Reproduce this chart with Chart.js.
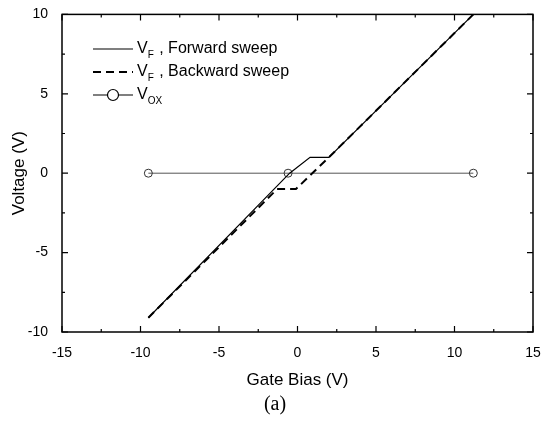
<!DOCTYPE html>
<html>
<head>
<meta charset="utf-8">
<script src="https://cdn.jsdelivr.net/npm/chart.js@4/dist/chart.umd.min.js"></script>
<style>
  html, body { margin: 0; padding: 0; background: #fff; }
  #wrap { width: 550px; height: 428px; }
</style>
</head>
<body>
<div id="wrap"><canvas id="chart"></canvas></div>
<script>
// gate bias (V) and voltage (V)
const forwardBias = [-9.5, -0.5, 0.8, 2.0, 11.2];
const forwardVolt = [-9.1, 0.0, 1.0, 1.0, 10.0];
const backwardBias = [-9.5, -1.3, -0.1, 2.0, 11.2];
const backwardVolt = [-9.1, -1.0, -1.0, 1.0, 10.0];
const oxideBias = [-9.5, -0.6, 11.2];
const oxideVolt = [0, 0, 0];
const xTicks = [-15, -10, -5, 0, 5, 10, 15];
const yTicks = [-10, -5, 0, 5, 10];

const pts = (xs, ys) => xs.map((x, i) => ({ x, y: ys[i] }));
const FONT = "'Liberation Sans', Arial, sans-serif";

// inward ticks + box frame, legend and figure label
const framePlugin = {
  id: "frame",
  afterDatasetsDraw(chart) {
    const { ctx, chartArea: a, scales } = chart;
    ctx.save();
    ctx.strokeStyle = "#000";
    ctx.lineWidth = 1.5;
    ctx.strokeRect(a.left, a.top, a.right - a.left, a.bottom - a.top);
    ctx.lineWidth = 1.2;
    ctx.beginPath();
    for (let v = -15; v <= 15; v += 2.5) {
      const px = scales.x.getPixelForValue(v);
      const len = v % 5 === 0 ? 6 : 3;
      ctx.moveTo(px, a.bottom); ctx.lineTo(px, a.bottom - len);
      ctx.moveTo(px, a.top); ctx.lineTo(px, a.top + len);
    }
    for (let v = -10; v <= 10; v += 2.5) {
      const py = scales.y.getPixelForValue(v);
      const len = v % 5 === 0 ? 6 : 3;
      ctx.moveTo(a.left, py); ctx.lineTo(a.left + len, py);
      ctx.moveTo(a.right, py); ctx.lineTo(a.right - len, py);
    }
    ctx.stroke();
    ctx.restore();
  },
  afterDraw(chart) {
    const { ctx } = chart;
    ctx.save();
    ctx.fillStyle = "#000";
    ctx.strokeStyle = "#000";
    const x0 = 93, x1 = 133, tx = 137;
    const rows = [
      { y: 49, sub: "F", text: " , Forward sweep", kind: "solid" },
      { y: 72, sub: "F", text: " , Backward sweep", kind: "dash" },
      { y: 95, sub: "OX", text: "", kind: "circle" }
    ];
    rows.forEach(r => {
      ctx.beginPath();
      if (r.kind === "dash") { ctx.setLineDash([8, 5]); ctx.lineWidth = 2; }
      else { ctx.setLineDash([]); ctx.lineWidth = 1.2; }
      ctx.moveTo(x0, r.y); ctx.lineTo(x1, r.y);
      ctx.stroke();
      ctx.setLineDash([]);
      if (r.kind === "circle") {
        ctx.beginPath();
        ctx.fillStyle = "#fff";
        ctx.arc((x0 + x1) / 2, r.y, 5.5, 0, Math.PI * 2);
        ctx.fill();
        ctx.lineWidth = 1.2;
        ctx.stroke();
        ctx.fillStyle = "#000";
      }
      ctx.textBaseline = "middle";
      ctx.textAlign = "left";
      ctx.font = "16px " + FONT;
      ctx.fillText("V", tx, r.y);
      let w = ctx.measureText("V").width;
      ctx.font = "10px " + FONT;
      ctx.fillText(r.sub, tx + w, r.y + 6);
      w += ctx.measureText(r.sub).width;
      ctx.font = "16px " + FONT;
      ctx.fillText(r.text, tx + w + 1, r.y);
    });
    ctx.font = "20px 'Liberation Serif', 'Times New Roman', serif";
    ctx.textAlign = "center";
    ctx.textBaseline = "middle";
    ctx.fillText("(a)", 275, 405);
    ctx.restore();
  }
};

new Chart(document.getElementById("chart"), {
  type: "scatter",
  data: {
    datasets: [
      {
        label: "VF, Forward sweep",
        data: pts(forwardBias, forwardVolt),
        showLine: true,
        borderColor: "#000",
        borderWidth: 1.2,
        pointRadius: 0
      },
      {
        label: "VF, Backward sweep",
        data: pts(backwardBias, backwardVolt),
        showLine: true,
        borderColor: "#000",
        borderWidth: 2,
        borderDash: [8, 5],
        pointRadius: 0
      },
      {
        label: "VOX",
        data: pts(oxideBias, oxideVolt),
        showLine: true,
        borderColor: "#555",
        borderWidth: 1,
        pointRadius: 4,
        pointBackgroundColor: "rgba(255,255,255,0)",
        pointBorderColor: "#333",
        pointBorderWidth: 1
      }
    ]
  },
  options: {
    responsive: true,
    maintainAspectRatio: false,
    animation: false,
    layout: { padding: { left: 4, right: 17, top: 14, bottom: 37 } },
    plugins: { legend: { display: false }, tooltip: { enabled: false } },
    scales: {
      x: {
        type: "linear",
        min: -15, max: 15,
        afterBuildTicks: s => { s.ticks = xTicks.map(v => ({ value: v })); },
        afterFit: s => { s.height = 59; },
        grid: { display: false },
        border: { display: false },
        ticks: { color: "#000", padding: 5, font: { family: FONT, size: 14 } },
        title: { display: true, text: "Gate Bias (V)", color: "#000", padding: { top: 0, bottom: 0 }, font: { family: FONT, size: 17 } }
      },
      y: {
        type: "linear",
        min: -10, max: 10,
        afterBuildTicks: s => { s.ticks = yTicks.map(v => ({ value: v })); },
        afterFit: s => { s.width = 58; },
        grid: { display: false },
        border: { display: false },
        ticks: { color: "#000", padding: 6, font: { family: FONT, size: 14 } },
        title: { display: true, text: "Voltage (V)", color: "#000", padding: { top: 5, bottom: 0 }, font: { family: FONT, size: 17 } }
      }
    }
  },
  plugins: [framePlugin]
});
</script>
</body>
</html>
